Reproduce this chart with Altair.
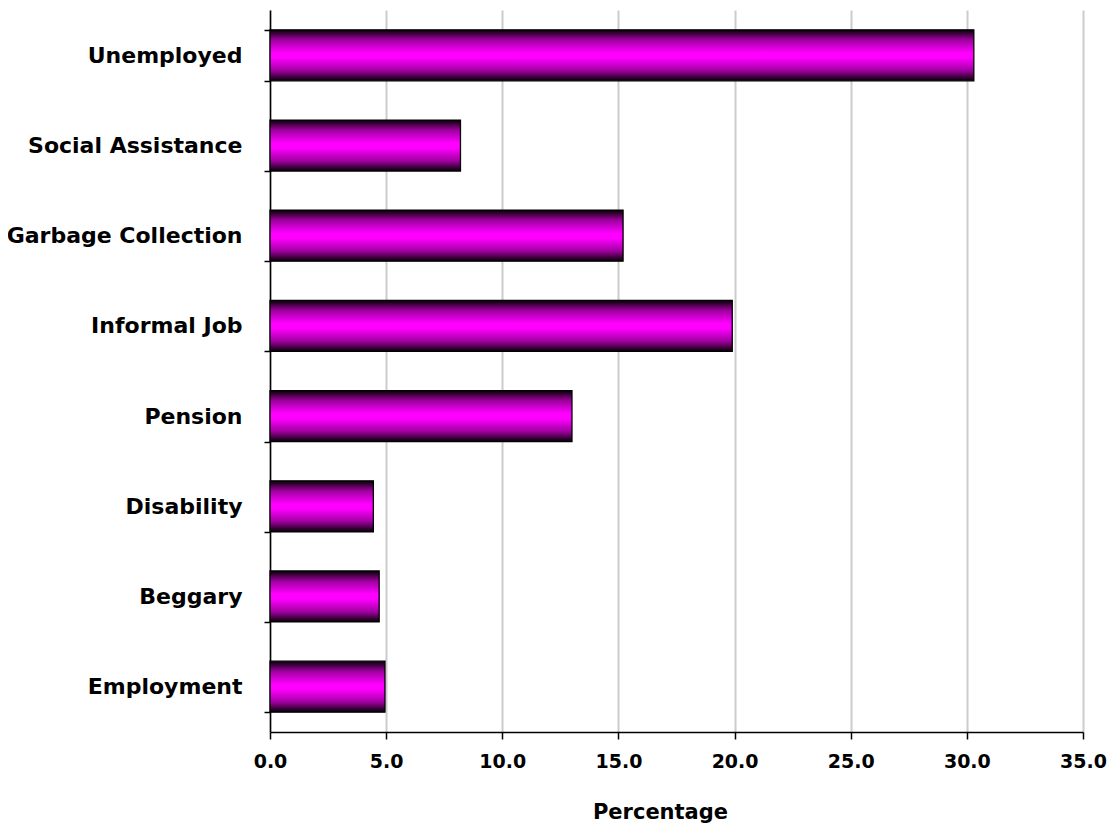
import altair as alt
import pandas as pd

categories = ["Unemployed", "Social Assistance", "Garbage Collection", "Informal Job",
              "Pension", "Disability", "Beggary", "Employment"]
percentages = [30.3, 8.2, 15.2, 19.9, 13.0, 4.45, 4.7, 4.95]
x_ticks = [0, 5, 10, 15, 20, 25, 30, 35]

df = pd.DataFrame({"category": categories, "pct": percentages})

FONT = "DejaVu Sans"

grad = alt.Gradient(
    gradient="linear",
    stops=[
        alt.GradientStop(color="#050005", offset=0),
        alt.GradientStop(color="#a000a0", offset=0.2),
        alt.GradientStop(color="#ff00ff", offset=0.45),
        alt.GradientStop(color="#ff00ff", offset=0.55),
        alt.GradientStop(color="#a000a0", offset=0.8),
        alt.GradientStop(color="#050005", offset=1),
    ],
    x1=0, x2=0, y1=0, y2=1,
)

chart = alt.Chart(df).mark_bar(
    color=grad, stroke="#000000", strokeWidth=1.3
).encode(
    x=alt.X("pct:Q",
            scale=alt.Scale(domain=[0, 35], nice=False),
            axis=alt.Axis(values=x_ticks, format=".1f", title="Percentage",
                          grid=True, gridColor="#cccccc", gridWidth=2,
                          domainColor="#000000", domainWidth=1.5,
                          tickColor="#000000", tickWidth=1.5, tickSize=7,
                          labelFlush=False,
                          labelFont=FONT, labelFontSize=19, labelFontWeight="bold",
                          labelColor="#000000", labelPadding=13,
                          titleFont=FONT, titleFontSize=21, titleFontWeight="bold",
                          titleColor="#000000", titleX=390, titleY=86,
                          titleAlign="center", titleBaseline="alphabetic")),
    y=alt.Y("category:N", sort=categories,
            scale=alt.Scale(paddingInner=0.435, paddingOuter=0.22),
            axis=alt.Axis(title=None, grid=False,
                          domainColor="#000000", domainWidth=1.5,
                          tickColor="#000000", tickWidth=1.5, tickSize=6,
                          tickBand="extent", labelLimit=0,
                          labelFont=FONT, labelFontSize=22, labelFontWeight="bold",
                          labelColor="#000000", labelPadding=22)),
).properties(
    width=813, height=722,
    autosize=alt.AutoSizeParams(type="none"),
    padding={"left": 262, "top": 2, "right": 26, "bottom": 97},
).configure_view(stroke=None)

chart.save("out.html", embed_options={"renderer": "svg", "actions": False})
